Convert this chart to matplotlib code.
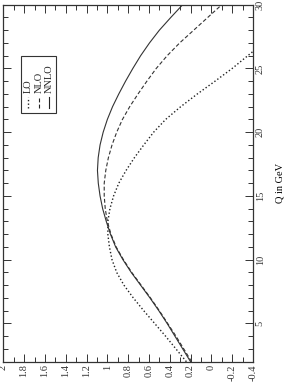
import matplotlib
matplotlib.use("Agg")
import matplotlib.pyplot as plt
from matplotlib.ticker import MultipleLocator
from matplotlib.patches import Rectangle
from matplotlib.lines import Line2D

plt.rcParams['font.family'] = ['Liberation Serif', 'DejaVu Serif']

# Q in GeV
q = [2, 3, 4, 5, 6, 7, 8, 9, 10, 11, 12, 13, 14, 15, 16, 17, 18, 19, 20,
     21, 22, 23, 24, 25, 26, 27, 28, 29, 30]
nnlo = [0.20, 0.275, 0.35, 0.425, 0.505, 0.59, 0.68, 0.77, 0.85, 0.92, 0.97,
        1.01, 1.045, 1.07, 1.087, 1.095, 1.088, 1.07, 1.04, 1.0, 0.95, 0.89,
        0.825, 0.755, 0.68, 0.595, 0.50, 0.39, 0.276]
nlo = [0.19, 0.265, 0.34, 0.42, 0.50, 0.585, 0.675, 0.765, 0.845, 0.915, 0.965,
       1.0, 1.02, 1.03, 1.03, 1.015, 0.99, 0.955, 0.91, 0.855, 0.785, 0.705,
       0.62, 0.53, 0.425, 0.305, 0.17, 0.035, -0.10]
q_lo = [2, 3, 4, 5, 6, 7, 8, 9, 10, 11, 12, 13, 14, 15, 16, 17, 18, 19, 20,
        21, 22, 23, 24, 25, 26, 26.4]
lo = [0.24, 0.34, 0.44, 0.545, 0.65, 0.75, 0.84, 0.91, 0.955, 0.98, 0.995,
      0.995, 0.975, 0.94, 0.89, 0.82, 0.74, 0.65, 0.555, 0.44, 0.295, 0.135,
      -0.035, -0.20, -0.35, -0.41]
labels = ["LO", "NLO", "NNLO"]
styles = [(0, (1, 1.6)), (0, (3.5, 2)), '-']

fig = plt.figure(figsize=(2.87, 3.82), dpi=100)
ax = fig.add_axes([0.0115, 0.0531, 0.87, 0.9346])

ax.plot(lo, q_lo, color='#222222', lw=1.0, linestyle=styles[0])
ax.plot(nlo, q, color='#333333', lw=0.8, linestyle=styles[1])
ax.plot(nnlo, q, color='#333333', lw=0.8, linestyle=styles[2])

ax.set_xlim(2, -0.4)
ax.set_ylim(2, 30)

ax.xaxis.set_major_locator(MultipleLocator(0.2))
ax.xaxis.set_minor_locator(MultipleLocator(0.1))
ax.yaxis.set_major_locator(MultipleLocator(5))
ax.yaxis.set_minor_locator(MultipleLocator(1))

ax.yaxis.tick_right()
ax.yaxis.set_label_position('right')
ax.tick_params(axis='both', which='both', direction='in', top=True, bottom=True,
               left=True, right=True, colors='#333333', labelsize=7.5, width=0.7)
ax.tick_params(which='major', length=6)
ax.tick_params(which='minor', length=3.5)
ax.tick_params(axis='x', labelrotation=90, pad=2)
ax.tick_params(axis='y', labelrotation=90, pad=2)

def fmt_x(v, pos):
    s = ('%.1f' % v).rstrip('0').rstrip('.')
    if s in ('-0', ''):
        s = '0'
    return s
ax.xaxis.set_major_formatter(plt.FuncFormatter(fmt_x))
ax.yaxis.set_major_formatter(plt.FuncFormatter(lambda v, p: '%d' % v if v >= 5 else ''))
for lab in ax.get_yticklabels():
    lab.set_va('center')

ax.set_ylabel('Q in GeV', fontsize=7.5, rotation=90, labelpad=8)

for sp in ax.spines.values():
    sp.set_color('#333333')
    sp.set_linewidth(0.9)

# manual rotated legend
ax.add_patch(Rectangle((0.0697, 0.6975), 0.14, 0.1585, transform=ax.transAxes,
                       fill=False, edgecolor='#333333', lw=0.8))
for xf, lab, ls in zip([0.099, 0.143, 0.183], labels, styles):
    ax.add_line(Line2D([xf, xf], [0.711, 0.7415], transform=ax.transAxes,
                       color='#222222', lw=0.8 if ls != styles[0] else 1.0,
                       linestyle=ls))
    ax.text(xf, 0.752, lab, transform=ax.transAxes, rotation=90, fontsize=7.5,
            ha='center', va='bottom', color='#222222')

fig.savefig('out.png', dpi=100)
